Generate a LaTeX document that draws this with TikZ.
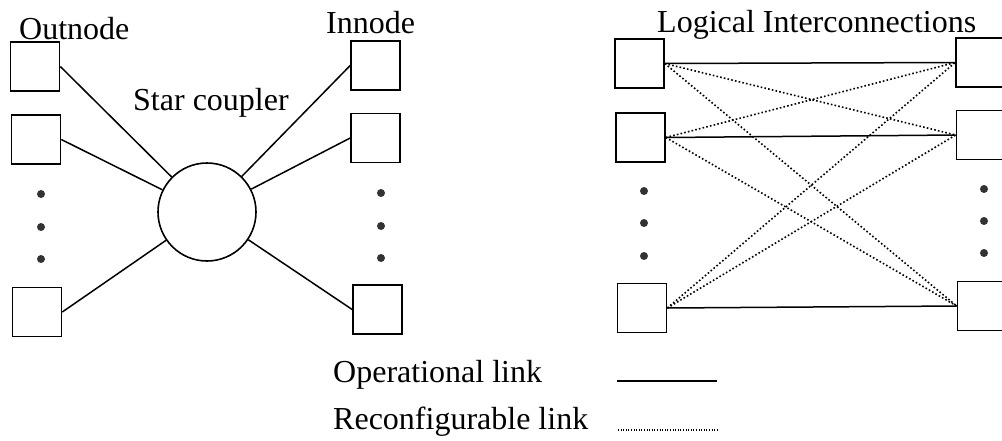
\documentclass[tikz,border=0pt]{standalone}
\usepackage{fontspec}
\setmainfont{Liberation Serif}
\begin{document}
\begin{tikzpicture}[x=1pt,y=-1pt,
  nodebox/.style={draw,line width=1.6pt,minimum width=49pt,minimum height=49pt,inner sep=0pt},
  coupler/.style={draw,circle,line width=1.6pt,minimum size=98pt,inner sep=0pt},
  lbl/.style={font=\fontsize{32}{37}\selectfont,inner sep=0pt},
  oplink/.style={line width=1.5pt},
  reclink/.style={line width=1.6pt,dash pattern=on 1.6pt off 2.2pt},
  vdot/.style={circle,fill=black!80,inner sep=0pt,minimum size=8pt}]
\useasboundingbox (0,0) rectangle (1002,440);
% left panel
\node[nodebox] (o1) at (35,66.5) {};
\node[nodebox] (o2) at (36,139.5) {};
\node[nodebox] (o3) at (37,312) {};
\node[nodebox] (i1) at (375.5,65.5) {};
\node[nodebox] (i2) at (375.5,138) {};
\node[nodebox] (i3) at (377.5,309.5) {};
\node[coupler] (star) at (207,212) {};
\foreach \n in {o1,o2,o3} \draw[oplink] (\n.east) -- (star);
\foreach \n in {i1,i2,i3} \draw[oplink] (\n.west) -- (star);
\node[vdot] (od1) at (41,194) {};
\node[vdot] (od2) at (41,227) {};
\node[vdot] (od3) at (41,259) {};
\node[vdot] (id1) at (381,193) {};
\node[vdot] (id2) at (381,226) {};
\node[vdot] (id3) at (381,258) {};
\node[lbl,anchor=base west] (outl) at (19,39) {Outnode};
\node[lbl,anchor=base west] (inl) at (326,33) {Innode};
\node[lbl,anchor=base west] (starl) at (133,110) {Star coupler};
% right panel
\node[nodebox] (l1) at (639.5,63.5) {};
\node[nodebox] (l2) at (640.5,137.5) {};
\node[nodebox] (l3) at (642,308) {};
\node[nodebox] (r1) at (980.5,62.5) {};
\node[nodebox] (r2) at (981,135) {};
\node[nodebox] (r3) at (982,306) {};
\foreach \a/\b in {l1/r1,l2/r2,l3/r3} \draw[oplink] (\a.east) -- (\b.west);
\foreach \a/\b in {l1/r2,l1/r3,l2/r1,l2/r3,l3/r1,l3/r2} \draw[reclink] (\a.east) -- (\b.west);
\node[vdot] (ld1) at (644,191) {};
\node[vdot] (ld2) at (644,223) {};
\node[vdot] (ld3) at (644,256) {};
\node[vdot] (rd1) at (984,189) {};
\node[vdot] (rd2) at (984,221) {};
\node[vdot] (rd3) at (984,253) {};
\node[lbl,anchor=base west] (logl) at (657,32) {Logical Interconnections};
% legend
\node[lbl,anchor=base west] (opl) at (333,382) {Operational link};
\node[lbl,anchor=base west] (recl) at (333,429) {Reconfigurable link};
\coordinate (os) at (617,381);
\coordinate (oe) at (717,381);
\coordinate (rs) at (618,430);
\coordinate (re) at (718,430);
\draw[oplink] (os) -- (oe);
\draw[line width=1.2pt,dash pattern=on 1pt off 1.6pt] (rs) -- (re);
\end{tikzpicture}
\end{document}
